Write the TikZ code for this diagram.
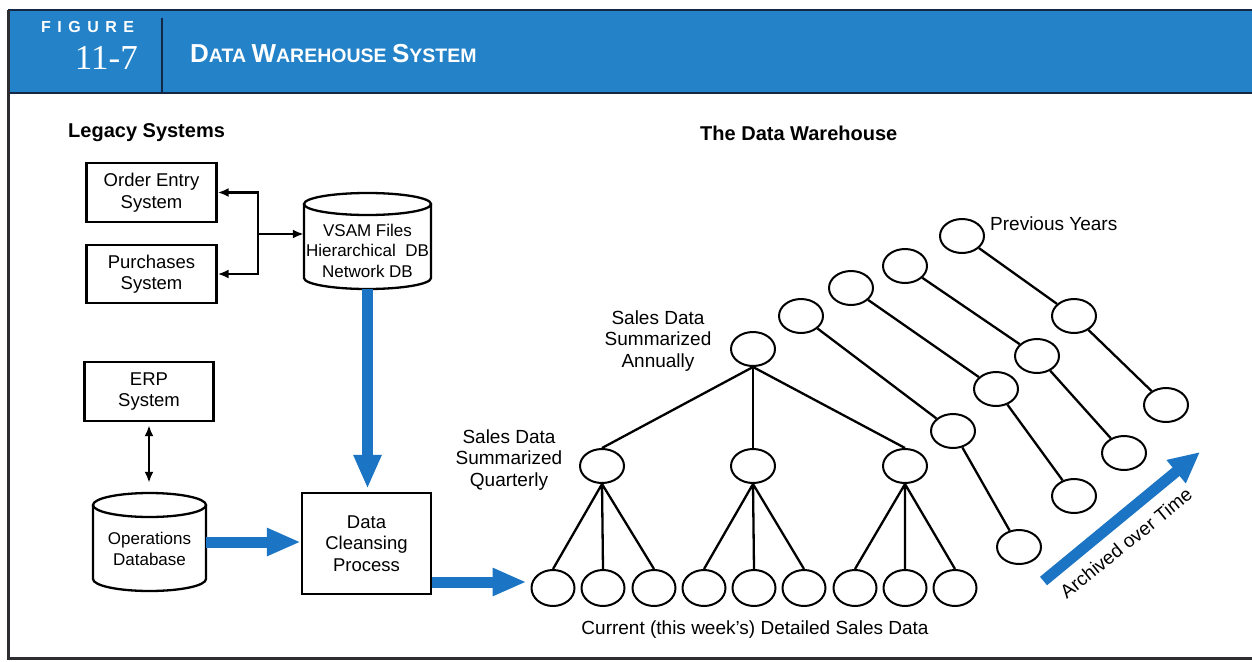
\documentclass[tikz,border=0pt]{standalone}
\usepackage{fontspec}
\setmainfont{Liberation Sans}
\newfontfamily\numfont{Liberation Serif}
\usetikzlibrary{shapes.geometric,arrows.meta,calc}
\definecolor{bandblue}{RGB}{36,130,200}
\definecolor{flowblue}{RGB}{27,117,196}
\definecolor{bandnavy}{RGB}{20,40,70}
\definecolor{framegray}{RGB}{45,45,50}

\begin{document}
\begin{tikzpicture}[x=1pt,y=-1pt,
  lbl/.style={font=\fontsize{19}{21.5}\selectfont, align=center, inner sep=0pt},
  cyltext/.style={font=\fontsize{17}{20.5}\selectfont, align=center, inner sep=0pt},
  sysbox/.style={draw, line width=2.4pt, inner sep=0pt, align=center,
                 font=\fontsize{18.5}{21.5}\selectfont},
  heading/.style={font=\bfseries\fontsize{20}{24}\selectfont, anchor=base west, inner sep=0pt},
  recnode/.style={draw, ellipse, line width=2pt, inner sep=0pt,
                  minimum width=44pt, minimum height=34pt},
  leafnode/.style={recnode, minimum width=43pt, minimum height=36pt},
  treeline/.style={line width=2.3pt},
  cylline/.style={line width=2.3pt},
  ptr/.style={line width=2.6pt, -{Latex[length=11pt,width=9pt]}},
  biptr/.style={line width=2.6pt, {Latex[length=11pt,width=9pt]}-{Latex[length=11pt,width=9pt]}},
  flowarrow/.style={draw=flowblue, line width=11pt, -{Triangle[length=34pt,width=26pt]}},
]
\useasboundingbox (0,0) rectangle (1252,661);
\fill[white] (0,0) rectangle (1252,661);

% title band and frame
\fill[bandblue] (8,10) rectangle (1252,93);
\draw[bandnavy, line width=1.5pt] (8,10) -- (1252,10);
\draw[bandnavy, line width=2.5pt] (8,93) -- (1252,93);
\draw[bandnavy, line width=2pt] (162,18) -- (162,92);
\draw[framegray, line width=3pt] (8,10) -- (8,658.5) -- (1252,658.5);

\node[anchor=base west, inner sep=0pt, text=white, font=\bfseries\fontsize{16}{16}\selectfont]
  (figword) at (41,33) {F\hspace{6.5pt}I\hspace{6.5pt}G\hspace{6.5pt}U\hspace{6.5pt}R\hspace{6.5pt}E};
\node[anchor=base east, inner sep=0pt, text=white, font=\numfont\fontsize{35}{35}\selectfont]
  (fignum) at (138,70) {11-7};
\node[anchor=base west, inner sep=0pt, text=white, font=\bfseries] (figtitle) at (190,63)
  {\fontsize{26}{26}\selectfont D\fontsize{19.5}{19.5}\selectfont ATA
   \fontsize{26}{26}\selectfont W\fontsize{19.5}{19.5}\selectfont AREHOUSE
   \fontsize{26}{26}\selectfont S\fontsize{19.5}{19.5}\selectfont YSTEM};

% section headings
\node[heading] (legacyhd) at (68,137) {Legacy Systems};
\node[heading] (dwhd) at (700,140) {The Data Warehouse};

% legacy systems
\node[sysbox, minimum width=130pt, minimum height=59pt] (order) at (151.5,192.5) {Order Entry\\System};
\node[sysbox, minimum width=130pt, minimum height=58pt] (purch) at (151.5,274) {Purchases\\System};
\node[sysbox, minimum width=129pt, minimum height=59pt] (erp) at (149,391.5) {ERP\\System};
\node[sysbox, minimum width=129pt, minimum height=101pt] (clean) at (366.5,543.5) {Data\\Cleansing\\Process};

% VSAM cylinder
\draw[cylline] (304,204) -- (304,278) arc[start angle=180, end angle=0, x radius=63.5, y radius=11] -- (431,204);
\draw[cylline] (367.5,204) ellipse[x radius=63.5, y radius=11];
\node[minimum width=127pt, minimum height=96pt, inner sep=0pt] (vsam) at (367.5,241) {};
\node[cyltext] (vsamtxt) at (367.5,250.5) {VSAM Files\\Hierarchical\ \ DB\\Network DB};

% operations database cylinder
\draw[cylline] (93,505) -- (93,579) arc[start angle=180, end angle=0, x radius=56.5, y radius=12] -- (206,505);
\draw[cylline] (149.5,505) ellipse[x radius=56.5, y radius=12];
\node[minimum width=113pt, minimum height=98pt, inner sep=0pt] (opdb) at (149.5,542) {};
\node[cyltext] (opdbtxt) at (149.5,549) {Operations\\Database};

% legacy connectors
\coordinate (hub) at (258,234);
\draw[ptr] (hub) -- (hub -| vsam.west);
\draw[ptr] (hub) |- (order.east);
\draw[ptr] (hub) |- (purch.east);
\draw[biptr, shorten <=3pt, shorten >=10pt] (erp.south) -- (erp.south |- opdb.north);

% summary tree
\node[recnode] (ann) at (753,349) {};
\node[recnode] (q1) at (602,466) {};
\node[recnode] (q2) at (753,466) {};
\node[recnode] (q3) at (905,466) {};
\foreach \i/\x in {1/553,2/603,3/654,4/704,5/754,6/804,7/855,8/905,9/955}
  \node[leafnode] (l\i) at (\x,588) {};
\foreach \q in {1,2,3}
  \draw[treeline] (ann.south) -- (q\q.north);
\draw[treeline] (q1.south) -- (l1.north) (q1.south) -- (l2.north) (q1.south) -- (l3.north);
\draw[treeline] (q2.south) -- (l4.north) (q2.south) -- (l5.north) (q2.south) -- (l6.north);
\draw[treeline] (q3.south) -- (l7.north) (q3.south) -- (l8.north) (q3.south) -- (l9.north);

% data flows
\draw[flowarrow, shorten >=3pt] (vsam.south) -- (vsam.south |- clean.north);
\draw[flowarrow] (opdb.east) -- (opdb.east -| clean.west);
\draw[flowarrow, shorten >=4pt] ([yshift=-38.5pt]clean.east) -- ([yshift=-38.5pt]clean.east -| l1.west);

% archived years
\node[recnode] (p1a) at (801,316) {};
\node[recnode] (p1b) at (953,431) {};
\node[recnode] (p1c) at (1019,547) {};
\node[recnode] (p2a) at (851,288) {};
\node[recnode] (p2b) at (996,389) {};
\node[recnode] (p2c) at (1074,496) {};
\node[recnode] (p3a) at (905,266) {};
\node[recnode] (p3b) at (1037,356) {};
\node[recnode] (p3c) at (1124,453) {};
\node[recnode] (p4a) at (962,236) {};
\node[recnode] (p4b) at (1074,316) {};
\node[recnode] (p4c) at (1166,405) {};
\foreach \k in {1,2,3,4}
  \draw[treeline] (p\k a) -- (p\k b) -- (p\k c);

% labels
\node[lbl, anchor=west] (prevlbl) at (990,224) {Previous Years};
\node[lbl] (annlbl) at (658,341) {Sales Data\\Summarized\\Annually};
\node[lbl] (qlbl) at (509,460) {Sales Data\\Summarized\\Quarterly};
\node[lbl] (curlbl) at (755,630) {Current (this week's) Detailed Sales Data};

% time arrow
\coordinate (agestart) at (1043.5,581);
\coordinate (ageend) at (1200,452);
\draw[flowarrow, -{Triangle[length=31pt,width=28pt]}] (agestart) -- (ageend);
\node[lbl, rotate=39] (agelbl) at (1126,543) {Archived over Time};
\end{tikzpicture}
\end{document}
